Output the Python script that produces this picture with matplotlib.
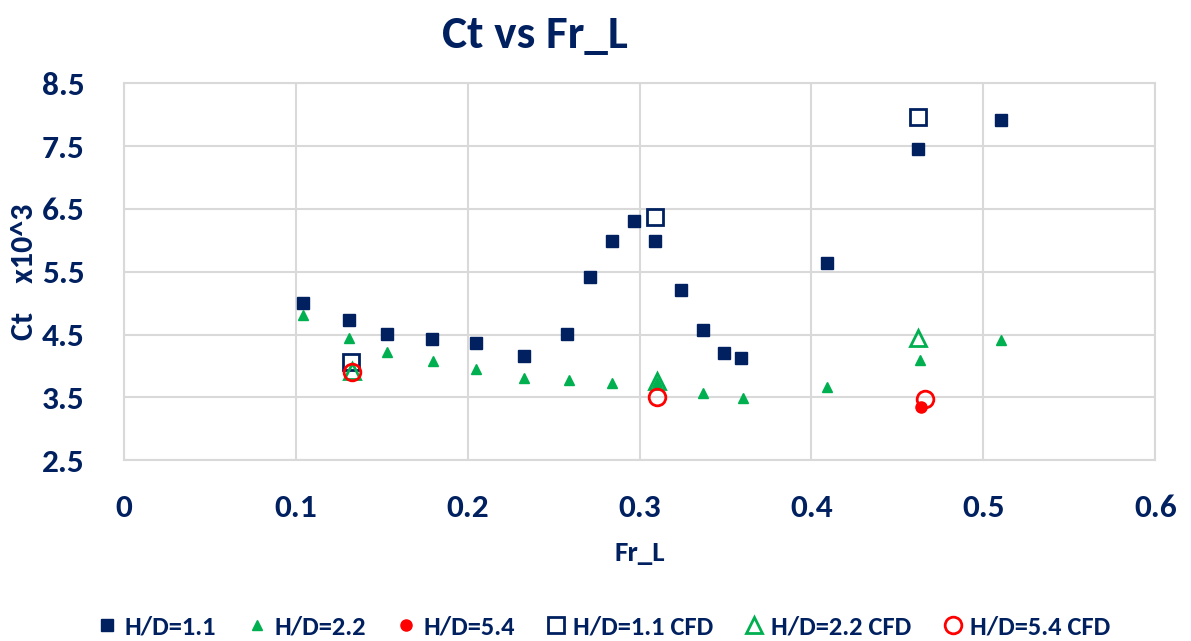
import matplotlib.pyplot as plt
import numpy as np
plt.switch_backend('Agg')

plt.rcParams['font.family'] = ['Carlito', 'Liberation Sans Narrow', 'DejaVu Sans']
plt.rcParams['font.weight'] = 'bold'

navy = '#002060'
green = '#00B050'
red = '#FF0000'

# H/D=1.1 experiments
fr_11 = [0.104, 0.131, 0.153, 0.179, 0.205, 0.233, 0.258, 0.271, 0.284, 0.297,
         0.309, 0.324, 0.337, 0.349, 0.359, 0.409, 0.462, 0.510]
ct_11 = [5.00, 4.73, 4.51, 4.43, 4.36, 4.16, 4.51, 5.42, 5.99, 6.31,
         5.99, 5.21, 4.57, 4.21, 4.12, 5.64, 7.45, 7.91]

# H/D=2.2 experiments
fr_22 = [0.104, 0.131, 0.153, 0.180, 0.205, 0.233, 0.259, 0.284, 0.310,
         0.337, 0.360, 0.409, 0.463, 0.510]
ct_22 = [4.81, 4.45, 4.22, 4.08, 3.95, 3.81, 3.78, 3.73, 3.74,
         3.57, 3.49, 3.66, 4.10, 4.42]

# H/D=5.4 experiments
fr_54 = [0.464]
ct_54 = [3.35]

# CFD
fr_11_cfd = [0.132, 0.309, 0.462]
ct_11_cfd = [4.07, 6.37, 7.97]
fr_22_cfd = [0.133, 0.310, 0.462]
ct_22_cfd = [3.92, 3.76, 4.45]
fr_54_cfd = [0.133, 0.310, 0.466]
ct_54_cfd = [3.90, 3.50, 3.47]

fig = plt.figure(figsize=(11.91, 6.41), dpi=100)
ax = fig.add_axes([0.104, 0.282, 0.866, 0.588])

ax.plot(fr_11, ct_11, 's', color=navy, markersize=8.5, linestyle='none', label='H/D=1.1')
ax.plot(fr_22, ct_22, '^', color=green, markersize=7, linestyle='none', label='H/D=2.2')
ax.plot(fr_54, ct_54, 'o', color=red, markersize=8, linestyle='none', label='H/D=5.4')
ax.plot(fr_11_cfd, ct_11_cfd, 's', color=navy, mfc='none', mew=2, markersize=11,
        linestyle='none', label='H/D=1.1 CFD')
ax.plot(fr_22_cfd, ct_22_cfd, '^', color=green, mfc='none', mew=2, markersize=12,
        linestyle='none', label='H/D=2.2 CFD')
ax.plot(fr_54_cfd, ct_54_cfd, 'o', color=red, mfc='none', mew=2, markersize=12,
        linestyle='none', label='H/D=5.4 CFD')

ax.set_xlim(0, 0.6)
ax.set_ylim(2.5, 8.5)
ax.set_xticks(np.arange(0, 0.61, 0.1))
ax.set_xticklabels(['0', '0.1', '0.2', '0.3', '0.4', '0.5', '0.6'])
ax.set_yticks([2.5, 3.5, 4.5, 5.5, 6.5, 7.5, 8.5])
ax.grid(True, color='#D9D9D9', linewidth=1.5)
ax.set_axisbelow(True)
for s in ax.spines.values():
    s.set_color('#D9D9D9')
    s.set_linewidth(1.5)
ax.tick_params(axis='x', length=0, labelsize=24, labelcolor=navy, pad=24)
ax.tick_params(axis='y', length=0, labelsize=24, labelcolor=navy, pad=28)
for lbl in ax.get_xticklabels() + ax.get_yticklabels():
    lbl.set_fontweight('bold')

ax.set_xlabel('Fr_L', fontsize=21, color=navy, fontweight='bold', labelpad=14)
ax.set_ylabel('Ct    x10^3', fontsize=23, color=navy, fontweight='bold')
ax.yaxis.set_label_coords(-0.083, 0.5)
fig.text(0.449, 0.945, 'Ct vs Fr_L', ha='center', va='center', fontsize=34,
         color=navy, fontweight='bold')

leg = fig.legend(loc='center', bbox_to_anchor=(0.505, 0.022), ncol=6, frameon=False,
                 fontsize=19, handletextpad=0.1, columnspacing=1.0, handlelength=1.1)
for t in leg.get_texts():
    t.set_color(navy)
    t.set_fontweight('bold')

plt.savefig('out.png', dpi=100)
